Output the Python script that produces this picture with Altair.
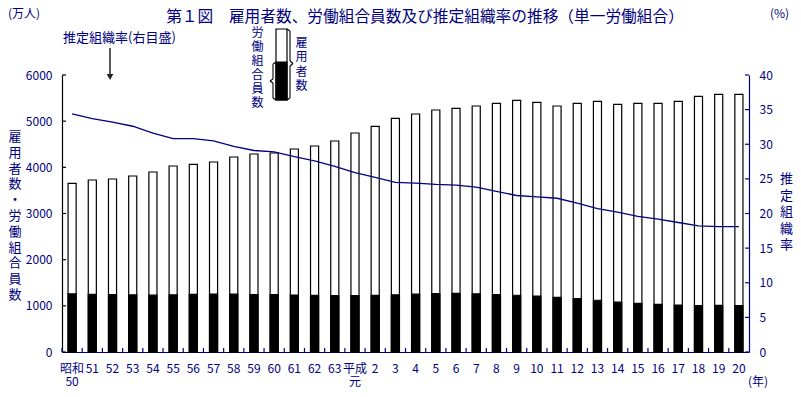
import altair as alt
import pandas as pd

# ---- data ----
categories = ["昭和 50", "51", "52", "53", "54", "55", "56", "57", "58", "59", "60", "61", "62", "63",
              "平成 元", "2", "3", "4", "5", "6", "7", "8", "9", "10", "11", "12", "13", "14", "15",
              "16", "17", "18", "19", "20"]
employees = [3654, 3726, 3747, 3812, 3899, 4029, 4066, 4115, 4224, 4289, 4310, 4397, 4462, 4570,
             4744, 4889, 5062, 5155, 5242, 5278, 5328, 5387, 5451, 5408, 5328, 5387, 5430, 5365,
             5387, 5387, 5430, 5538, 5582, 5582]
union_members = [1259, 1251, 1244, 1238, 1231, 1237, 1247, 1253, 1252, 1246, 1242, 1234, 1227, 1223,
                 1223, 1227, 1240, 1254, 1266, 1270, 1261, 1245, 1229, 1209, 1183, 1154, 1121, 1080,
                 1053, 1031, 1014, 1004, 1008, 1007]
union_rate = [34.4, 33.7, 33.2, 32.6, 31.6, 30.8, 30.8, 30.5, 29.7, 29.1, 28.9, 28.2, 27.6, 26.8,
              25.9, 25.2, 24.5, 24.4, 24.2, 24.1, 23.8, 23.2, 22.6, 22.4, 22.2, 21.5, 20.7, 20.2,
              19.6, 19.2, 18.7, 18.2, 18.1, 18.1]
left_ticks = [0, 1000, 2000, 3000, 4000, 5000, 6000]
right_ticks = [0, 5, 10, 15, 20, 25, 30, 35, 40]

title_text = "第１図　雇用者数、労働組合員数及び推定組織率の推移（単一労働組合）"

# ---- styling ----
W, H = 687, 277
NAVY = "#000080"
FONT = "Noto Sans CJK JP"
STEP = W / len(categories)

df = pd.DataFrame({"cat": categories, "emp": employees, "uni": union_members, "rate": union_rate})
one = alt.Data(values=[{}])

xscale = alt.Scale(domain=categories, paddingInner=0.6, paddingOuter=0.3)
x_axis = alt.X("cat:N", sort=categories, scale=xscale,
               axis=alt.Axis(title=None, labelAngle=0, labelExpr="split(datum.label, ' ')",
                             labelColor=NAVY, labelFont=FONT, labelFontSize=12, labelLineHeight=13,
                             labelPadding=11, labelOverlap=False, domainColor=NAVY, domainWidth=1.2,
                             ticks=False, tickSize=0, grid=False))

lscale = alt.Scale(domain=[0, 6000])
rscale = alt.Scale(domain=[0, 40])

bars_total = alt.Chart(df).mark_bar(fill="white", stroke="black", strokeWidth=1.2).encode(
    x=x_axis,
    y=alt.Y("emp:Q", scale=lscale,
            axis=alt.Axis(title=None, values=left_ticks, format="d", orient="left", domainColor="black",
                          domainWidth=1.2, ticks=False, tickSize=0, labelPadding=10,
                          labelColor=NAVY, labelFont=FONT, labelFontSize=12, grid=False)))

bars_union = alt.Chart(df).mark_bar(fill="black", stroke="black", strokeWidth=1.2).encode(
    x=x_axis, y=alt.Y("uni:Q", scale=lscale, axis=None))

line = alt.Chart(df).mark_line(color=NAVY, strokeWidth=1.3).encode(
    x=x_axis,
    y=alt.Y("rate:Q", scale=rscale,
            axis=alt.Axis(title=None, values=right_ticks, format="d", orient="right", domainColor=NAVY,
                          domainWidth=1.2, ticks=False, tickSize=0, labelPadding=10,
                          labelColor=NAVY, labelFont=FONT, labelFontSize=12, grid=False)))

lt = alt.Chart(alt.Data(values=[{"v": v} for v in left_ticks])).mark_rule(color="black", strokeWidth=1.2).encode(
    y=alt.Y("v:Q", scale=lscale, axis=None), x=alt.value(0), x2=alt.value(4))
rt = alt.Chart(alt.Data(values=[{"v": v} for v in right_ticks])).mark_rule(color=NAVY, strokeWidth=1.2).encode(
    y=alt.Y("v:Q", scale=rscale, axis=None), x=alt.value(W - 4), x2=alt.value(W))
bt = alt.Chart(df).mark_rule(color=NAVY, strokeWidth=1.2, xOffset=-STEP / 2).encode(
    x=x_axis, y=alt.value(H - 4), y2=alt.value(H))


def text(t, x, y, size=12, align="center", color=NAVY, lh=None):
    kw = dict(font=FONT, fontSize=size, align=align, baseline="middle", color=color)
    if lh is not None:
        kw.update(lineBreak="\n", lineHeight=lh)
    return alt.Chart(one).mark_text(**kw).encode(x=alt.value(x), y=alt.value(y), text=alt.value(t))


def seg(x1, y1, x2, y2, color="black", w=1.2):
    return alt.Chart(one).mark_rule(color=color, strokeWidth=w).encode(
        x=alt.value(x1), y=alt.value(y1), x2=alt.value(x2), y2=alt.value(y2))


annots = [
    text(title_text, 363, -58, size=15.7),
    text("(万人)", -54, -61, size=12, align="left"),
    text("(%)", 708, -61, size=12, align="left"),
    text("推定組織率(右目盛)", 1, -37, size=13, align="left"),
    # vertical texts: y is the centre of the first character
    text("\n".join("雇用者数・労働組合員数"), -47, 62, size=13, lh=15.8),
    text("\n".join("推定組織率"), 724.5, 104, size=13, lh=16.5),
    text("\n".join("労働組合員数"), 195.5, -42, size=12, lh=14),
    text("\n".join("雇用者数"), 239.5, -32, size=12, lh=14.3),
    text("(年)", 696, 307, size=12),
    seg(48, -27, 48, 0, color="#222", w=1.5),
    alt.Chart(one).mark_point(shape="triangle-down", filled=True, size=45, color="#222", opacity=1).encode(
        x=alt.value(48), y=alt.value(2)),
    alt.Chart(one).mark_rect(fill="white", stroke="black", strokeWidth=1.2).encode(
        x=alt.value(214), x2=alt.value(225), y=alt.value(-46), y2=alt.value(25)),
    alt.Chart(one).mark_rect(fill="black", stroke="black", strokeWidth=1.2).encode(
        x=alt.value(214), x2=alt.value(225), y=alt.value(-13), y2=alt.value(25)),
]

# braces beside the legend icon
right_brace = [(225, -46), (228, -44), (228, -14), (231, -11.5), (228, -9), (228, 23), (225, 25)]
left_brace = [(214, -13), (211, -11), (211, 4), (208, 6), (211, 8), (211, 23), (214, 25)]
for pts in (right_brace, left_brace):
    for (a, b), (c, d) in zip(pts[:-1], pts[1:]):
        annots.append(seg(a, b, c, d, w=1.1))

chart = alt.layer(bars_total, bars_union, line, lt, rt, bt, *annots).resolve_scale(
    y="independent"
).properties(
    width=W, height=H,
    padding={"left": 54, "top": 67, "right": 44, "bottom": 37},
    autosize=alt.AutoSizeParams(type="none"),
).configure_view(stroke=None)

chart.save("out.html", embed_options={"renderer": "svg", "actions": False})
